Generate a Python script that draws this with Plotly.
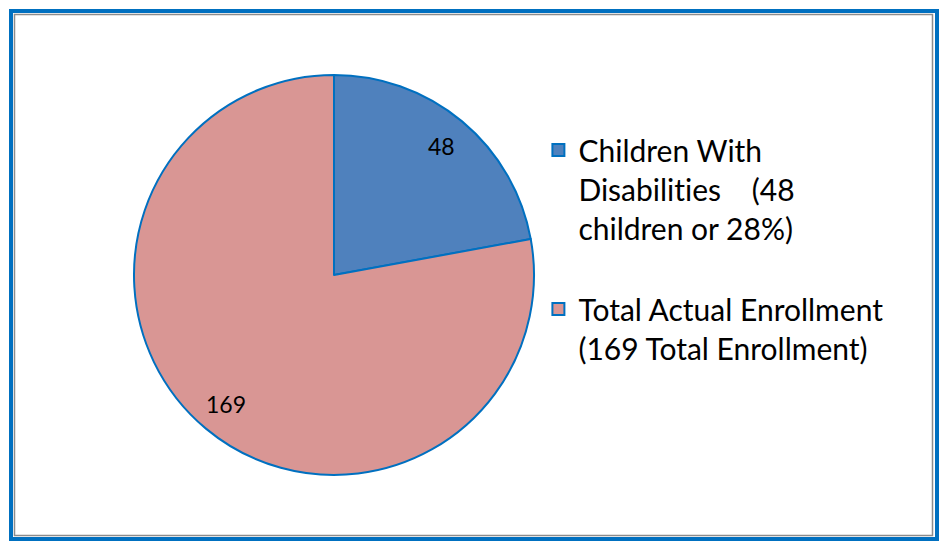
import math
import plotly.graph_objects as go

labels = ["Children With<br>Disabilit\u200cies\u00a0\u00a0\u00a0\u00a0(48<br>children or 28%)<br>\u00a0",
          "Total Actual Enrollment<br>(169 Total Enrollment)"]
values = [48, 169]
colors = ["#4F81BD", "#D99694"]

W, H = 939, 550
cx, cy_b, R = 334, 275, 200  # centre (from left, from bottom) and radius in px

fig = go.Figure(go.Pie(
    labels=labels, values=values, sort=False, direction="clockwise", rotation=0,
    marker=dict(colors=colors, line=dict(color="#0070C0", width=2)),
    textinfo="none",
    domain=dict(x=[(cx - R) / W, (cx + R) / W], y=[(cy_b - R) / H, (cy_b + R) / H]),
    hoverinfo="label+value",
))

# value labels placed at the middle angle of each slice
total = sum(values)
start = 0.0
annotations = []
for v in values:
    mid = (start + v / 2) / total * 2 * math.pi
    start += v
    r = 0.84 * R
    annotations.append(dict(
        x=(cx + r * math.sin(mid)) / W, y=(cy_b + r * math.cos(mid)) / H,
        xref="paper", yref="paper", xanchor="center", yanchor="middle",
        text=str(v), showarrow=False,
        font=dict(family="Lato", size=23, color="#000000")))

fig.update_layout(
    width=W, height=H, margin=dict(l=0, r=0, t=0, b=0),
    paper_bgcolor="white", plot_bgcolor="white",
    showlegend=True,
    legend=dict(x=538.4 / W, y=1 - 124 / H, xanchor="left", yanchor="top", valign="top",
                font=dict(family="Lato", size=30, color="#000000"),
                itemwidth=30, tracegroupgap=0),
    annotations=annotations,
    shapes=[
        dict(type="rect", xref="paper", yref="paper", x0=11 / W, x1=937 / W, y0=1 - 539 / H, y1=1 - 11 / H,
             line=dict(color="#0070C0", width=4)),
        dict(type="rect", xref="paper", yref="paper", x0=14.5 / W, x1=932.5 / W, y0=1 - 535.5 / H, y1=1 - 14.5 / H,
             line=dict(color="#8C8C8C", width=1.5)),
    ],
)

fig.write_html("out.html", config={"displayModeBar": False},
               post_script="document.body.style.margin='0';document.body.style.overflow='hidden';")
